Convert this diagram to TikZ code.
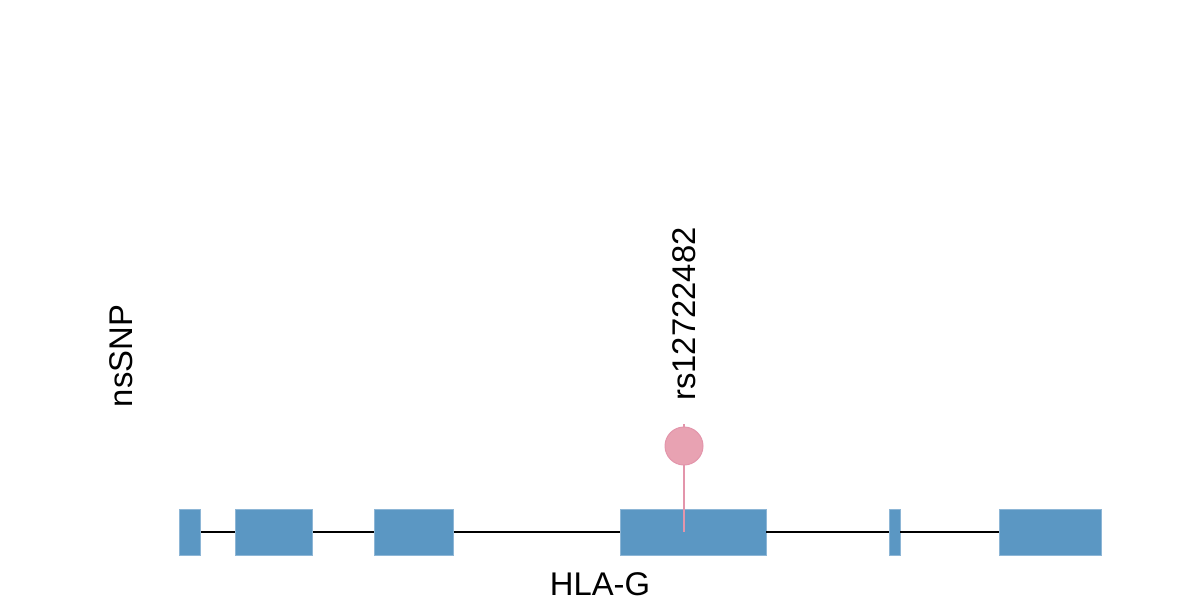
\documentclass[tikz,border=0pt]{standalone}
\usepackage{fontspec}
\setmainfont{Liberation Sans}
\usetikzlibrary{positioning}
\definecolor{exonblue}{HTML}{5B97C3}
\definecolor{exonedge}{HTML}{8DB6D6}
\definecolor{snppink}{HTML}{E8A2B2}
\definecolor{snpedge}{HTML}{E395AB}

\begin{document}
\begin{tikzpicture}[x=0.5pt, y=-0.5pt,
    exon/.style={rectangle, fill=exonblue, draw=exonedge, line width=0.4pt, inner sep=0pt, minimum height=23pt},
    intron/.style={black, line width=0.9pt},
    snp/.style={circle, fill=snppink, draw=snpedge, line width=0.5pt, inner sep=0pt, minimum size=19pt},
    stem/.style={snpedge, line width=0.8pt},
    label/.style={font=\fontsize{16.4}{19}\selectfont, inner sep=0pt}]
    \useasboundingbox (0,0) rectangle (1200,600);

    % Exons
    \node[exon, minimum width=10.85pt] (ex1) at (189.85,532) {};
    \node[exon, minimum width=38.5pt]  (ex2) at (274.2,532) {};
    \node[exon, minimum width=39.3pt]  (ex3) at (414,532) {};
    \node[exon, minimum width=72.65pt] (ex4) at (693.35,532) {};
    \node[exon, minimum width=5.35pt]  (ex5) at (894.65,532) {};
    \node[exon, minimum width=51pt]    (ex6) at (1050,532) {};

    % Introns
    \foreach \a/\b in {ex1/ex2, ex2/ex3, ex3/ex4, ex4/ex5, ex5/ex6}
        \draw[intron] (\a.east) -- (\b.west);

    % SNP lollipop
    \coordinate (snptop) at (684,424);
    \coordinate (snpbase) at (684,532);
    \draw[stem] (snptop) -- (snpbase);
    \node[snp] (rs) at (684,446) {};

    % Labels
    \node[label, rotate=90, anchor=west] (rslabel) at (684,401) {rs12722482};
    \node[label, rotate=90] (track) at (121,356) {nsSNP};
    \node[label] (gene) at (600,584) {HLA-G};
\end{tikzpicture}
\end{document}
